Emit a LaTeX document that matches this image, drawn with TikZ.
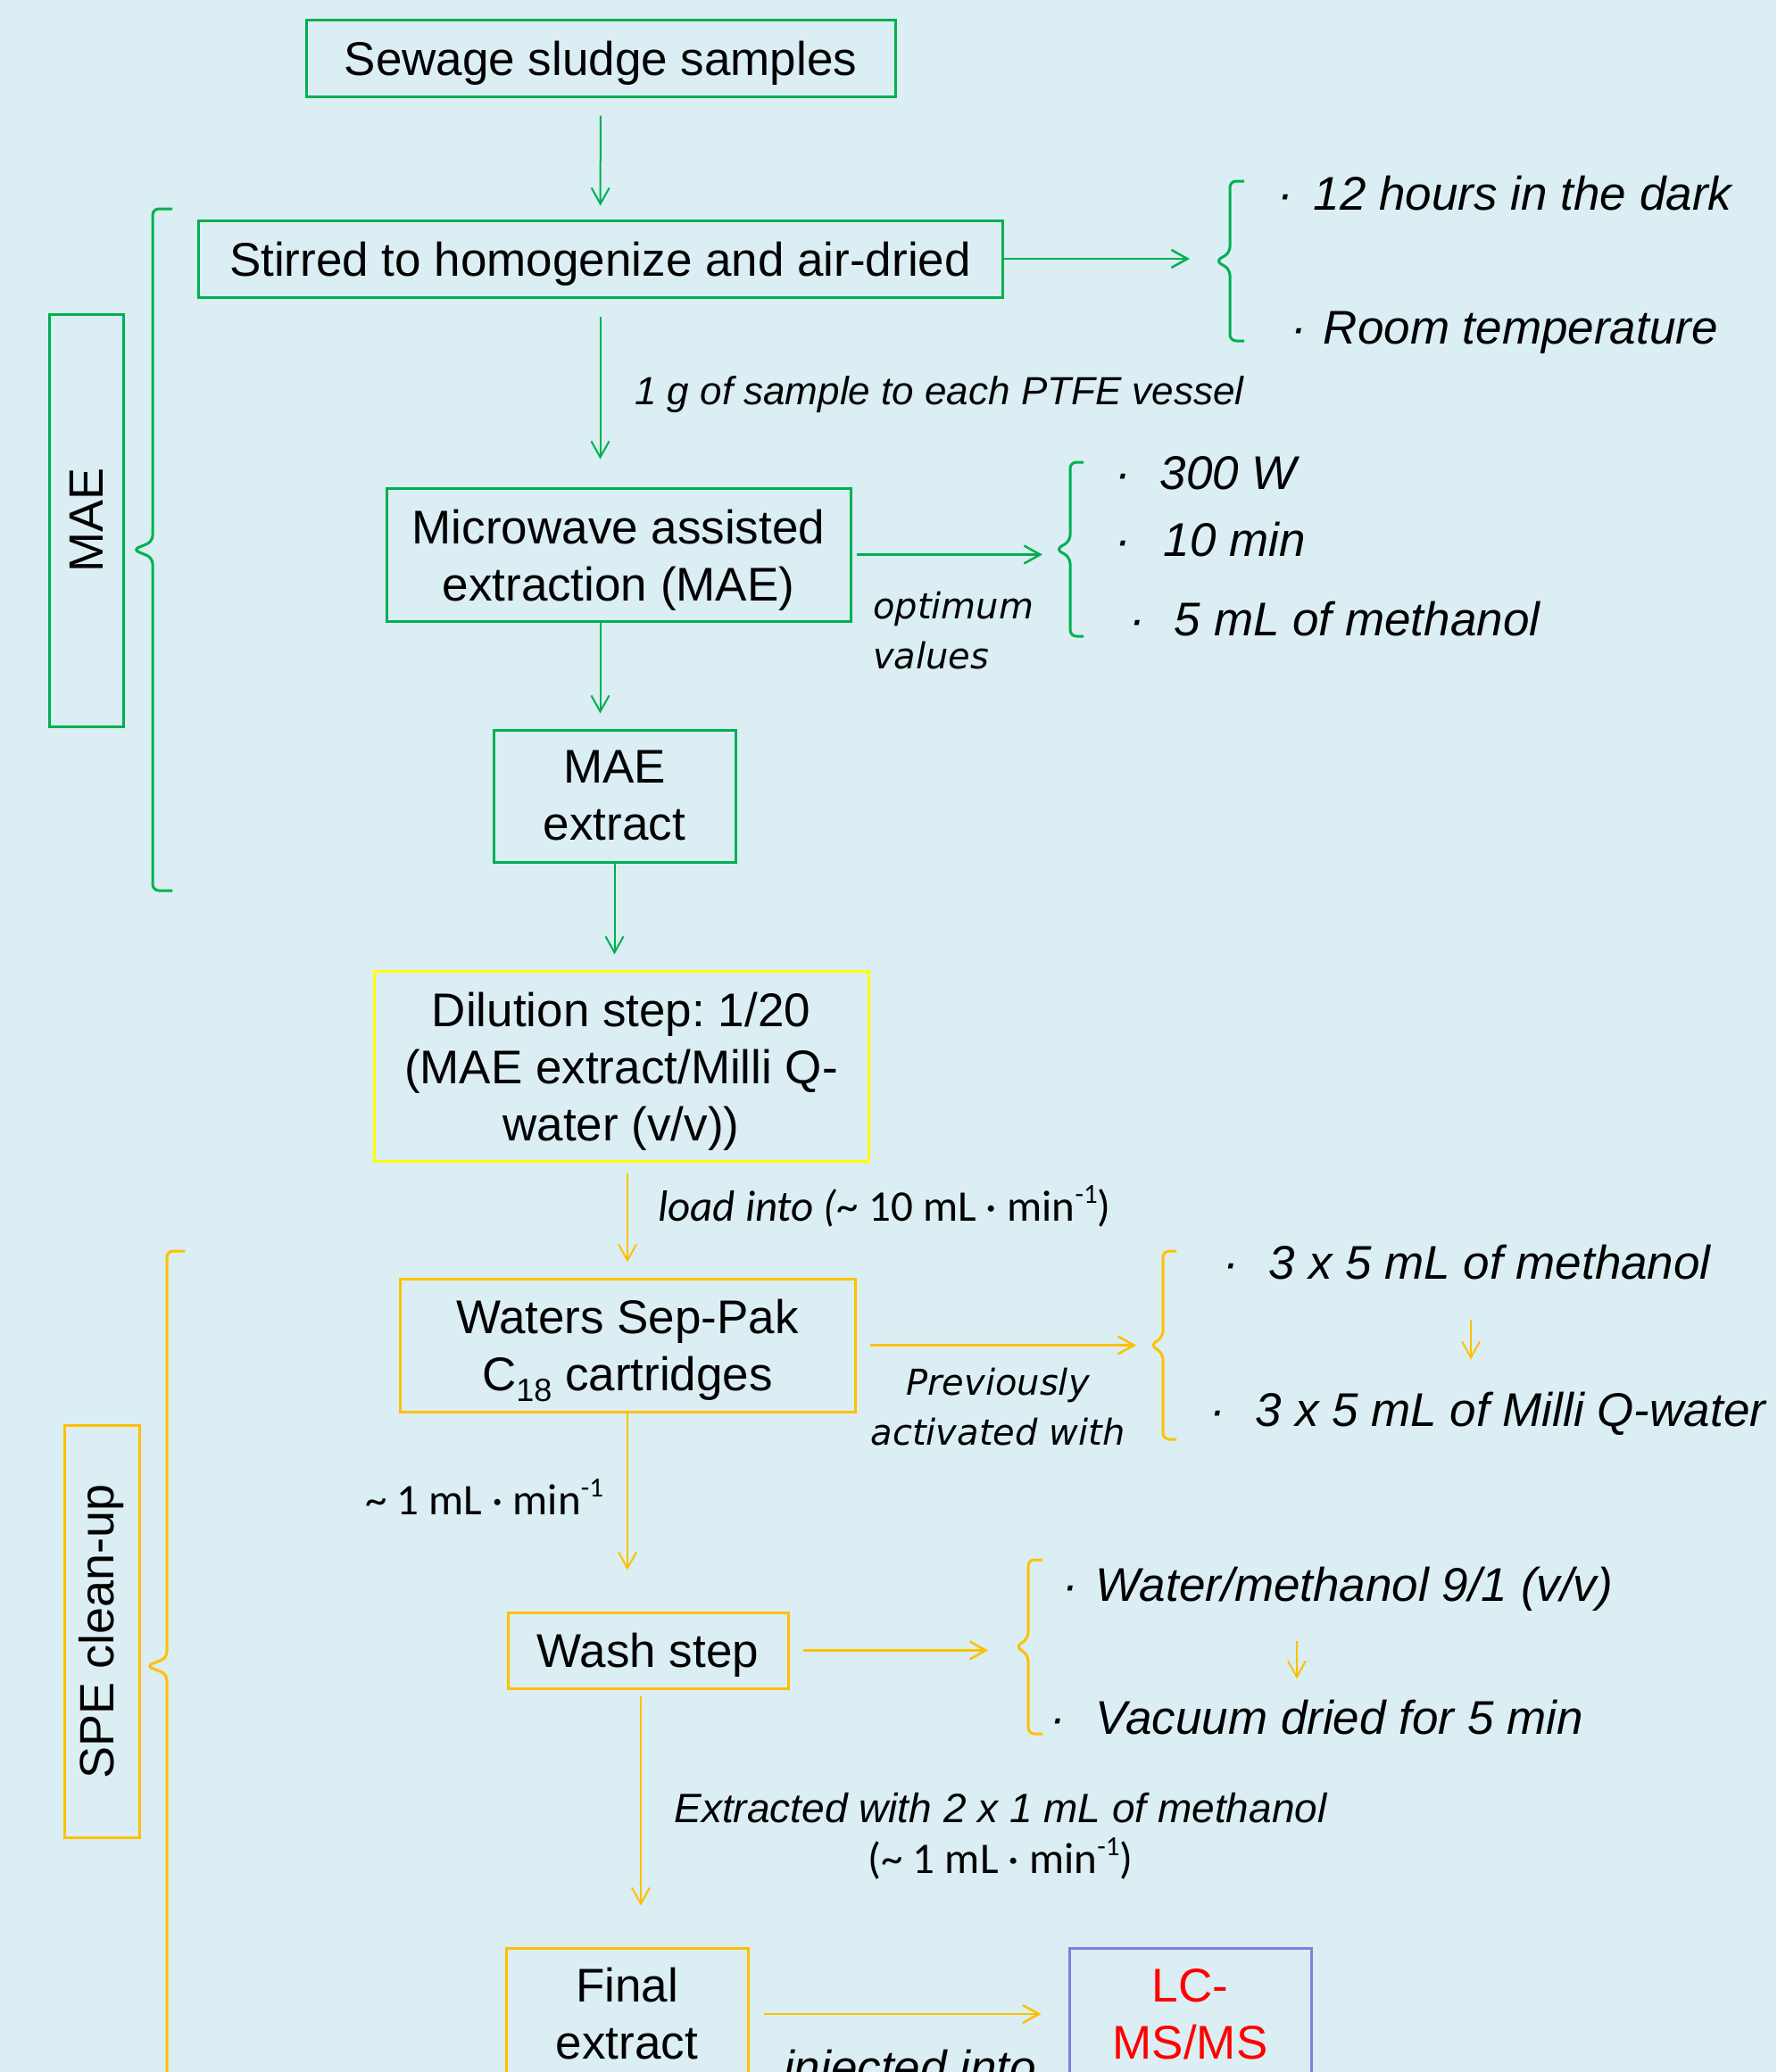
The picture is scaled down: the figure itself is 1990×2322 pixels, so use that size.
\documentclass[tikz,border=0pt]{standalone}
\usepackage{fontspec}
\setmainfont{Liberation Sans}
\newfontfamily\dejavu{DejaVu Sans}
\newfontfamily\carlito{Carlito}
\usetikzlibrary{arrows.meta,calc}
\definecolor{bgblue}{RGB}{218,238,243}
\definecolor{mygreen}{RGB}{0,176,80}
\definecolor{myyellow}{RGB}{255,255,0}
\definecolor{myorange}{RGB}{255,192,0}
\definecolor{myviolet}{RGB}{128,128,224}
\frenchspacing
\newcommand{\upr}[1]{\raisebox{0.4em}{\fontsize{31}{31}\selectfont #1}}
\newcommand{\lowr}[1]{\raisebox{-0.22em}{\fontsize{36}{36}\selectfont #1}}
\newcommand{\itm}[2]{\textperiodcentered\hspace{#1pt}#2}
\newcommand{\lift}{\rule{0pt}{50pt}}
% brace: colour, x of ends, x of line, x of tip, y top, y bottom
\newcommand{\brc}[6]{\draw[#1, line width=3pt, rounded corners=7pt]
  (#2,#5) -- (#3,#5) -- (#3,{(#5+#6)/2-9}) -- (#4,{(#5+#6)/2}) -- (#3,{(#5+#6)/2+9}) -- (#3,#6) -- (#2,#6);}
\tikzset{
  box/.style={line width=3pt, align=center, inner sep=0pt, font=\fontsize{53}{64}\selectfont},
  gbox/.style={box, draw=mygreen},
  obox/.style={box, draw=myorange},
  garrow/.style={draw=mygreen, line width=2pt, -{Straight Barb[length=18pt,width=20pt]}},
  oarrow/.style={garrow, draw=myorange},
  item/.style={anchor=base west, inner sep=0pt, font=\fontsize{53}{64}\selectfont\itshape},
  lbl/.style={inner sep=0pt, font=\fontsize{46}{57}\selectfont\itshape},
  cal/.style={inner sep=0pt, font=\fontsize{49}{57}\selectfont\carlito},
  dvl/.style={inner sep=0pt, font=\fontsize{40}{56}\selectfont\dejavu\itshape}
}
\begin{document}
\begin{tikzpicture}[x=1pt,y=-1pt]
  \useasboundingbox (0,0) rectangle (1990,2322);
  \fill[bgblue] (0,0) rectangle (1990,2322);
  \clip (0,0) rectangle (1990,2322);
  % MAE boxes
  \node[gbox, text depth=0pt, minimum width=660, minimum height=86] (sewage) at (673,65) {Sewage sludge samples};
  \node[gbox, text depth=0pt, minimum width=901, minimum height=86] (stirred) at (672.5,290) {Stirred to homogenize and air-dried};
  \node[gbox, minimum width=520, minimum height=149] (micro) at (693,621.5) {\lift Microwave assisted\\extraction (MAE)};
  \node[gbox, minimum width=271, minimum height=148] (mext) at (688.5,892) {MAE\\extract};
  \node[gbox, rotate=90, minimum width=462, minimum height=83, font=\fontsize{54}{64}\selectfont] (maelab) at (96.5,583) {MAE};
  % SPE boxes
  \node[box, draw=myyellow, minimum width=554, minimum height=213] (dil) at (696,1194.5) {\lift Dilution step: 1/20\\(MAE extract/Milli Q-\\water (v/v))};
  \node[obox, minimum width=510, minimum height=149] (waters) at (703,1507.5) {\lift Waters Sep-Pak\\C\lowr{18} cartridges};
  \node[obox, text depth=0pt, minimum width=314, minimum height=85] (wash) at (726,1849.5) {Wash step};
  \node[obox, minimum width=271, minimum height=148] (final) at (702.5,2257) {Final\\extract};
  \node[box, draw=myviolet, text=red, minimum width=271, minimum height=148] (lcms) at (1333.5,2257) {LC-\\MS/MS};
  \node[obox, rotate=90, minimum width=462, minimum height=84, font=\fontsize{54}{64}\selectfont] (spelab) at (114,1828) {SPE clean-up};
  % braces
  \brc{mygreen}{1394}{1378}{1362}{203}{382}
  \brc{mygreen}{1214}{1199}{1183}{518}{713}
  \brc{mygreen}{193}{171}{149}{234}{998}
  \brc{myorange}{207}{187}{164}{1402}{2332}
  \brc{myorange}{1318}{1303}{1289}{1402}{1613}
  \brc{myorange}{1168}{1152}{1138}{1748}{1943}
  \coordinate (dryTip) at (1362,290);
  \coordinate (mwTip) at (1183,621.5);
  \coordinate (actTip) at (1289,1507.5);
  \coordinate (washTip) at (1138,1849.5);
  % list items
  \node[item] (dark) at (1431,235) {\itm{23}{12 hours in the dark}};
  \node[item] (room) at (1446,385) {\itm{19}{Room temperature}};
  \node[item] (watt) at (1249,548) {\itm{33}{300 W}};
  \node[item] (tenmin) at (1249,623) {\itm{37}{10 min}};
  \node[item] (meth5) at (1265,712) {\itm{33}{5 mL of methanol}};
  \node[item] (meth3) at (1370,1433) {\itm{34}{3 x 5 mL of methanol}};
  \node[item] (mq) at (1355,1598) {\itm{34}{3 x 5 mL of Milli Q-water}};
  \node[item] (wm) at (1190,1794) {\itm{20}{Water/methanol 9/1 (v/v)}};
  \node[item] (vac) at (1176,1943) {\itm{34}{Vacuum dried for 5 min}};
  % labels
  \node[lbl, anchor=base west, font=\fontsize{44}{53}\selectfont\itshape] (gram) at (711,453) {1 g of sample to each PTFE vessel};
  \node[dvl, align=left, anchor=north west] (optv) at (978,663) {optimum\\values};
  \node[cal, anchor=base west] (load) at (737,1368) {{\itshape load into (}\textasciitilde{} 10 mL · min\upr{-1})};
  \node[dvl, align=center, anchor=north] (prev) at (1118,1533) {Previously\\activated with};
  \node[cal, anchor=base west] (flow) at (409,1697) {\textasciitilde{} 1 mL · min\upr{-1}};
  \node[lbl, align=center, anchor=north] (extr) at (1121,2009) {Extracted with 2 x 1 mL of methanol\\{\upshape\carlito\fontsize{49}{57}\selectfont (\textasciitilde{} 1 mL · min\upr{-1})}};
  \node[lbl, anchor=base west, font=\fontsize{53}{64}\selectfont\itshape] (inj) at (878,2335) {injected into};
  % arrows down
  \draw[garrow, shorten <=20pt, shorten >=15pt] (sewage) -- (stirred);
  \draw[garrow, shorten <=20pt, shorten >=31pt] (stirred.south) -- (stirred.south |- micro.north);
  \draw[garrow, shorten >=17pt] (stirred.south |- micro.south) -- (stirred.south |- mext.north);
  \draw[garrow, shorten >=17pt] (mext.south) -- (mext.south |- dil.north);
  \draw[oarrow, shorten <=12pt, shorten >=17pt] (waters.north |- dil.south) -- (waters.north);
  \draw[oarrow, shorten >=46pt] (waters.south) -- (waters.south |- wash.north);
  \draw[oarrow, shorten <=7pt, shorten >=46pt] ([xshift=-8pt]wash.south) -- ([xshift=-8pt]wash.south |- final.north);
  % arrows right
  \draw[garrow, line width=2.5pt, shorten >=29pt] (stirred.east) -- (dryTip);
  \draw[garrow, line width=2.5pt, shorten <=5pt, shorten >=15pt] (micro.east) -- (mwTip);
  \draw[oarrow, line width=2.5pt, shorten <=15pt, shorten >=16pt] (waters.east) -- (actTip);
  \draw[oarrow, line width=2.5pt, shorten <=15pt, shorten >=31pt] (wash.east) -- (washTip);
  \draw[oarrow, line width=2.5pt, shorten <=16pt, shorten >=30pt] (final) -- (lcms);
  % small arrows in lists
  \coordinate (colA) at (1648,0);
  \coordinate (colB) at (1453,0);
  \draw[oarrow, shorten <=45pt, shorten >=36pt] (colA |- meth3.south) -- (colA |- mq.north);
  \draw[oarrow, shorten <=34pt, shorten >=23pt] (colB |- wm.south) -- (colB |- vac.north);
\end{tikzpicture}
\end{document}
